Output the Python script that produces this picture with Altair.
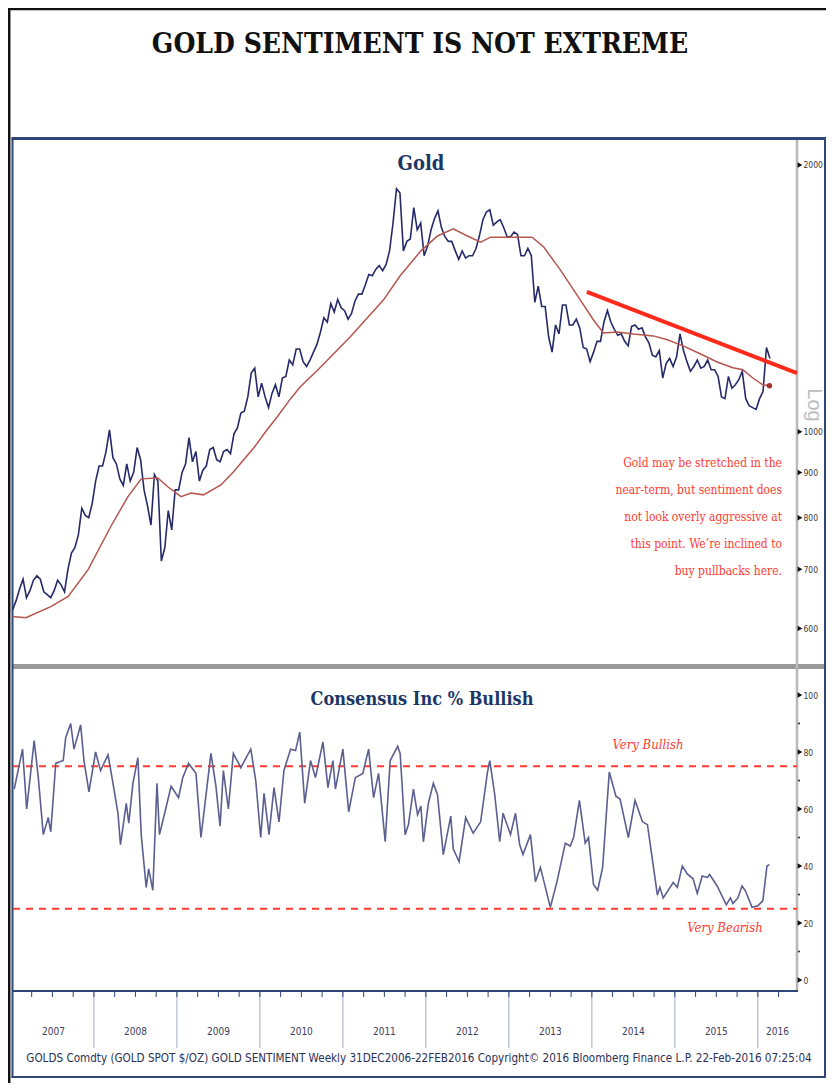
import altair as alt
import pandas as pd

# ---------------- text ----------------
title_text = "GOLD SENTIMENT IS NOT EXTREME"
gold_title = "Gold"
sent_title = "Consensus Inc % Bullish"
note_lines = [
    "Gold may be stretched in the",
    "near-term, but sentiment does",
    "not look overly aggressive at",
    "this point. We\u2019re inclined to",
    "buy pullbacks here.",
]
footer_text = ("GOLDS Comdty (GOLD SPOT $/OZ) GOLD SENTIMENT   Weekly 31DEC2006-22FEB2016   "
               "Copyright\u00a9 2016 Bloomberg Finance L.P.   22-Feb-2016 07:25:04")
years = list(range(2007, 2017))
gold_ticks = [600, 700, 800, 900, 1000, 2000]
sent_ticks = [0, 20, 40, 60, 80, 100]
sent_minor = [10, 30, 50, 70, 90]
bull_level = 75
bear_level = 25

# ---------------- gold spot, two readings per month ----------------
gold_2007 = [630, 645, 665, 682, 650, 662, 680, 688, 682, 660, 655, 650,
             662, 680, 672, 660, 700, 730, 740, 765, 820, 805, 800, 830]
gold_2008 = [880, 915, 915, 950, 1005, 935, 920, 885, 870, 920, 880, 900,
             960, 930, 860, 825, 785, 895, 880, 715, 740, 815, 775, 860]
gold_2009 = [860, 900, 920, 985, 925, 950, 880, 905, 915, 955, 960, 930,
             925, 950, 955, 945, 995, 1010, 1050, 1055, 1095, 1165, 1180, 1095]
gold_2010 = [1135, 1095, 1065, 1105, 1130, 1095, 1150, 1155, 1205, 1190, 1240, 1240,
             1200, 1185, 1205, 1230, 1255, 1295, 1345, 1330, 1395, 1365, 1410, 1380]
gold_2011 = [1370, 1340, 1360, 1405, 1430, 1430, 1465, 1505, 1500, 1525, 1540, 1520,
             1545, 1600, 1720, 1880, 1860, 1600, 1640, 1650, 1790, 1690, 1720, 1580]
gold_2012 = [1620, 1690, 1740, 1775, 1700, 1660, 1640, 1640, 1600, 1565, 1600, 1570,
             1580, 1580, 1610, 1665, 1735, 1770, 1780, 1710, 1725, 1735, 1700, 1660]
gold_2013 = [1660, 1680, 1670, 1580, 1580, 1610, 1580, 1400, 1460, 1385, 1385, 1280,
             1230, 1320, 1290, 1390, 1390, 1320, 1320, 1340, 1310, 1245, 1240, 1200]
gold_2014 = [1230, 1265, 1265, 1330, 1370, 1330, 1305, 1285, 1290, 1265, 1250, 1315,
             1320, 1305, 1310, 1280, 1260, 1220, 1215, 1235, 1150, 1195, 1210, 1185]
gold_2015 = [1215, 1290, 1235, 1200, 1170, 1185, 1205, 1180, 1185, 1205, 1175, 1175,
             1155, 1095, 1090, 1155, 1120, 1130, 1145, 1170, 1090, 1070, 1065, 1060]
gold_2016 = [1090, 1110, 1245, 1210]
gold_by_year = [(2007, gold_2007), (2008, gold_2008), (2009, gold_2009), (2010, gold_2010),
                (2011, gold_2011), (2012, gold_2012), (2013, gold_2013), (2014, gold_2014),
                (2015, gold_2015), (2016, gold_2016)]

# ---------------- moving average ----------------
ma_t = [2007.02, 2007.18, 2007.48, 2007.69, 2007.93, 2008.20, 2008.41, 2008.57, 2008.77, 2008.89,
        2009.05, 2009.17, 2009.32, 2009.53, 2009.68, 2009.93, 2010.05, 2010.21, 2010.37, 2010.49,
        2010.70, 2011.09, 2011.49, 2011.69, 2011.94, 2012.14, 2012.33, 2012.50, 2012.66, 2012.78,
        2013.02, 2013.28, 2013.42, 2013.62, 2013.86, 2014.02, 2014.14, 2014.31, 2014.50, 2014.74,
        2014.91, 2015.10, 2015.31, 2015.51, 2015.70, 2015.82, 2015.94, 2016.06, 2016.14]
ma_v = [619, 617, 635, 652, 699, 781, 845, 885, 887, 867,
        845, 853, 849, 871, 901, 960, 995, 1040, 1090, 1125,
        1175, 1280, 1409, 1500, 1600, 1663, 1694, 1663, 1637, 1658,
        1658, 1658, 1616, 1523, 1409, 1337, 1293, 1296, 1289, 1283,
        1270, 1250, 1224, 1199, 1181, 1175, 1150, 1130, 1127]

# ---------------- trend line ----------------
trend_t = [2013.94, 2016.472]
trend_v = [1438, 1165]

# ---------------- Consensus Inc % bullish ----------------
sent_t = [2007.04, 2007.14, 2007.19, 2007.28, 2007.33, 2007.39, 2007.45, 2007.48, 2007.54, 2007.63,
          2007.66, 2007.72, 2007.76, 2007.84, 2007.88, 2007.94,
          2008.02, 2008.08, 2008.17, 2008.23, 2008.29, 2008.32, 2008.39, 2008.42, 2008.47, 2008.53,
          2008.57, 2008.63, 2008.66, 2008.71, 2008.76, 2008.79, 2008.84, 2008.93,
          2009.02, 2009.07, 2009.14, 2009.23, 2009.29, 2009.41, 2009.47, 2009.52, 2009.56, 2009.62,
          2009.68, 2009.77, 2009.89, 2009.95,
          2010.01, 2010.05, 2010.11, 2010.17, 2010.23, 2010.29, 2010.37, 2010.43, 2010.48, 2010.54,
          2010.61, 2010.67, 2010.76, 2010.82, 2010.88, 2010.91,
          2011.00, 2011.07, 2011.15, 2011.24, 2011.31, 2011.37, 2011.43, 2011.51, 2011.57, 2011.66,
          2011.69, 2011.75, 2011.79, 2011.85, 2011.90, 2011.94, 2011.97,
          2012.03, 2012.09, 2012.14, 2012.21, 2012.30, 2012.33, 2012.40, 2012.48, 2012.57, 2012.66,
          2012.74, 2012.77, 2012.83, 2012.89, 2012.93,
          2013.02, 2013.08, 2013.13, 2013.17, 2013.26, 2013.32, 2013.38, 2013.50, 2013.58, 2013.68,
          2013.74, 2013.78, 2013.85, 2013.92, 2013.96,
          2014.02, 2014.07, 2014.13, 2014.21, 2014.29, 2014.34, 2014.44, 2014.52, 2014.61, 2014.67,
          2014.79, 2014.82, 2014.86, 2014.98,
          2015.03, 2015.09, 2015.15, 2015.22, 2015.27, 2015.33, 2015.39, 2015.42, 2015.51, 2015.62,
          2015.67, 2015.70, 2015.76, 2015.81, 2015.85, 2015.93,
          2016.00, 2016.06, 2016.11, 2016.14]
sent_v = [67, 81, 60, 84, 71, 51, 57, 52, 76, 77,
          85, 90, 81, 89.5, 77, 66,
          80, 73.5, 79, 69, 58.5, 47.5, 62, 55, 69, 78,
          51, 32.5, 39, 31.5, 69, 51, 57, 68,
          64, 71, 76, 72.5, 50, 79.5, 68, 54, 73.5, 60,
          79.5, 74.5, 81, 70,
          50, 65.5, 51, 67.5, 55.5, 73.5, 81, 80.5, 87, 62,
          77, 71, 83.5, 67.5, 77, 67,
          81, 59, 71, 72.5, 81, 64, 72.5, 48.5, 77, 82,
          79.5, 51, 54.5, 67, 58, 61, 48.5,
          62, 69, 65, 44, 57.5, 46, 41.5, 57, 51.5, 55.5,
          72.5, 77, 65, 48.5, 58.5,
          51, 58.5, 47.5, 44, 51, 34.5, 39.5, 25.5, 34.5, 48,
          47, 50, 63, 48, 50,
          33.5, 31.5, 39.5, 73, 64.5, 63.5, 50, 63, 55.5, 54.5,
          29.8, 32.5, 28.8, 34.2,
          32.5, 40, 37.2, 35.5, 30.4, 36.5, 36, 37, 33, 26.4,
          28.8, 26.8, 28.8, 33, 31.3, 25.5,
          26, 27.8, 40, 40.5]

# ---------------- tables ----------------
gold_rows = []
for yr, vals in gold_by_year:
    for i, v in enumerate(vals):
        gold_rows.append({"t": yr + (i + 0.5) / 24.0, "v": v})
gold_df = pd.DataFrame(gold_rows)
ma_df = pd.DataFrame({"t": ma_t, "v": ma_v})
ma_end_df = ma_df.tail(1)
trend_df = pd.DataFrame({"t": trend_t, "v": trend_v})
sent_df = pd.DataFrame({"t": sent_t, "v": sent_v})
gtick_df = pd.DataFrame({"v": gold_ticks})
stick_df = pd.DataFrame({"v": sent_ticks})
sminor_df = pd.DataFrame({"v": sent_minor})
level_df = pd.DataFrame({"v": [bull_level, bear_level]})

X_DOM = [2007.025, 2016.472]
X_RNG = [5, 789]
year_bound_df = pd.DataFrame({"t": [y for y in years if y > X_DOM[0]]})
year_lab_df = pd.DataFrame({
    "t": [(max(y, X_DOM[0]) + min(y + 1, X_DOM[1])) / 2 for y in years],
    "label": [str(y) for y in years],
})
quarter_df = pd.DataFrame({"t": [y + q / 4 for y in years for q in range(4)
                                 if X_DOM[0] < y + q / 4 < X_DOM[1]]})
one = pd.DataFrame({"k": [0]})

# ---------------- style ----------------
NAVY = "#2d4778"
NAVY_TXT = "#1c3666"
SERIF = "DejaVu Serif Condensed, DejaVu Serif, serif"
NARROW = "Liberation Sans Narrow, DejaVu Sans Condensed, sans-serif"
RED = "#ff3b30"

G_DOM = [550, 2134]
G_RNG = [654, 132]
S_DOM = [0, 100]
S_RNG = [972, 687]


def xq(field="t", axis=None):
    return alt.X(f"{field}:Q", scale=alt.Scale(domain=X_DOM, range=X_RNG, nice=False, zero=False), axis=axis)


def gy(field="v", axis=None):
    return alt.Y(f"{field}:Q", scale=alt.Scale(type="log", domain=G_DOM, range=G_RNG, nice=False), axis=axis)


def sy(field="v", axis=None):
    return alt.Y(f"{field}:Q", scale=alt.Scale(domain=S_DOM, range=S_RNG, nice=False, zero=False), axis=axis)


def txt(text, x, y, size, color, font, weight="normal", align="center", style="normal",
        angle=0, baseline="middle"):
    return alt.Chart(one).mark_text(
        text=text, fontSize=size, color=color, font=font, fontWeight=weight,
        align=align, fontStyle=style, angle=angle, baseline=baseline,
    ).encode(x=alt.value(x), y=alt.value(y))


def hrule(x1, x2, y, color, width, dash=None):
    kw = dict(color=color, strokeWidth=width)
    if dash:
        kw["strokeDash"] = dash
    return alt.Chart(one).mark_rule(**kw).encode(x=alt.value(x1), x2=alt.value(x2), y=alt.value(y))


def vrule(x, y1, y2, color, width):
    return alt.Chart(one).mark_rule(color=color, strokeWidth=width).encode(
        x=alt.value(x), y=alt.value(y1), y2=alt.value(y2))


axis_lab = dict(labelFont=NARROW, labelFontSize=8.5, labelColor="#3a3a3a", tickSize=0,
                domain=False, grid=False, labelPadding=6, title=None, format="d")
gold_axis = alt.Axis(orient="right", offset=-29, values=gold_ticks, **axis_lab)
sent_axis = alt.Axis(orient="right", offset=-29, values=sent_ticks, **axis_lab)

layers = []
# frames
layers.append(hrule(0, 818, 1, "#111111", 2.5))
layers.append(vrule(1.2, 0, 1075, "#111111", 2.5))
layers.append(alt.Chart(one).mark_rect(color="#9a9a9a").encode(
    x=alt.value(4), x2=alt.value(817), y=alt.value(656), y2=alt.value(661)))
layers.append(vrule(789, 131, 983, "#b8b8b8", 2.5))
layers.append(hrule(3.5, 818, 130.5, NAVY, 3))
layers.append(vrule(4.5, 130, 1070, NAVY, 2))
layers.append(vrule(817, 130, 1070, NAVY, 2))
layers.append(hrule(3.5, 818, 1069, NAVY, 2))

# x axis: quarter ticks, year boundaries and labels
layers.append(alt.Chart(year_bound_df).mark_rule(color="#a3a7c6", strokeWidth=1).encode(
    x=xq("t"), y=alt.value(983), y2=alt.value(1040)))
layers.append(alt.Chart(quarter_df).mark_rule(color=NAVY, strokeWidth=1).encode(
    x=xq("t"), y=alt.value(983), y2=alt.value(989)))
layers.append(hrule(4, 790, 983, NAVY, 2))
layers.append(alt.Chart(year_lab_df).mark_text(font=NARROW, fontSize=10, color="#3d4060").encode(
    x=xq("t"), y=alt.value(1024), text="label:N"))

# gold panel
layers.append(alt.Chart(gold_df).mark_line(color="#262a68", strokeWidth=1.6, clip=True).encode(
    x=xq("t"), y=gy("v", gold_axis)))
layers.append(alt.Chart(ma_df).mark_line(color="#b5564e", strokeWidth=1.5, clip=True).encode(
    x=xq("t"), y=gy("v")))
layers.append(alt.Chart(ma_end_df).mark_point(shape="circle", filled=True, size=30, color="#a8322c",
                                             opacity=1).encode(x=xq("t"), y=gy("v")))
layers.append(alt.Chart(trend_df).mark_line(color="#ff2a1a", strokeWidth=4, clip=True).encode(
    x=xq("t"), y=gy("v")))
layers.append(alt.Chart(gtick_df).mark_point(shape="triangle-right", filled=True, size=30,
                                            color="#111111", opacity=1).encode(x=alt.value(792), y=gy("v")))

# sentiment panel
layers.append(alt.Chart(level_df).mark_rule(color=RED, strokeWidth=2, strokeDash=[7, 6]).encode(
    x=alt.value(5), x2=alt.value(789), y=sy("v")))
layers.append(alt.Chart(sent_df).mark_line(color="#5b5f90", strokeWidth=1.6, clip=True).encode(
    x=xq("t"), y=sy("v", sent_axis)))
layers.append(alt.Chart(stick_df).mark_point(shape="triangle-right", filled=True, size=30,
                                            color="#111111", opacity=1).encode(x=alt.value(792), y=sy("v")))
layers.append(alt.Chart(sminor_df).mark_point(shape="circle", filled=True, size=5,
                                             color="#333333", opacity=1).encode(x=alt.value(791), y=sy("v")))

# texts
layers.append(txt(title_text, 412, 37, 28, "#111111", SERIF, weight="bold"))
layers.append(txt(gold_title, 413, 156, 20, NAVY_TXT, SERIF, weight="bold"))
layers.append(txt(sent_title, 414, 692, 18, NAVY_TXT, SERIF, weight="bold"))
for i, line in enumerate(note_lines):
    layers.append(txt(line, 774, 455 + 27 * i, 12, RED, SERIF, align="right"))
layers.append(txt("Very Bullish", 640, 737, 13, RED, SERIF, style="italic"))
layers.append(txt("Very Bearish", 717, 920, 13, RED, SERIF, style="italic"))
layers.append(txt("Log", 806, 397, 20, "#bdbdbd", "Liberation Sans, sans-serif", angle=90))
layers.append(txt(footer_text, 411, 1051, 11.6, "#2b2f55", NARROW))

chart = alt.layer(*layers).resolve_scale(y="independent").properties(
    width=818, height=1075,
    autosize=alt.AutoSizeParams(type="none"),
    padding=0,
    background="white",
).configure_view(stroke=None)

chart.save("out.html", embed_options={"renderer": "svg", "actions": False})
